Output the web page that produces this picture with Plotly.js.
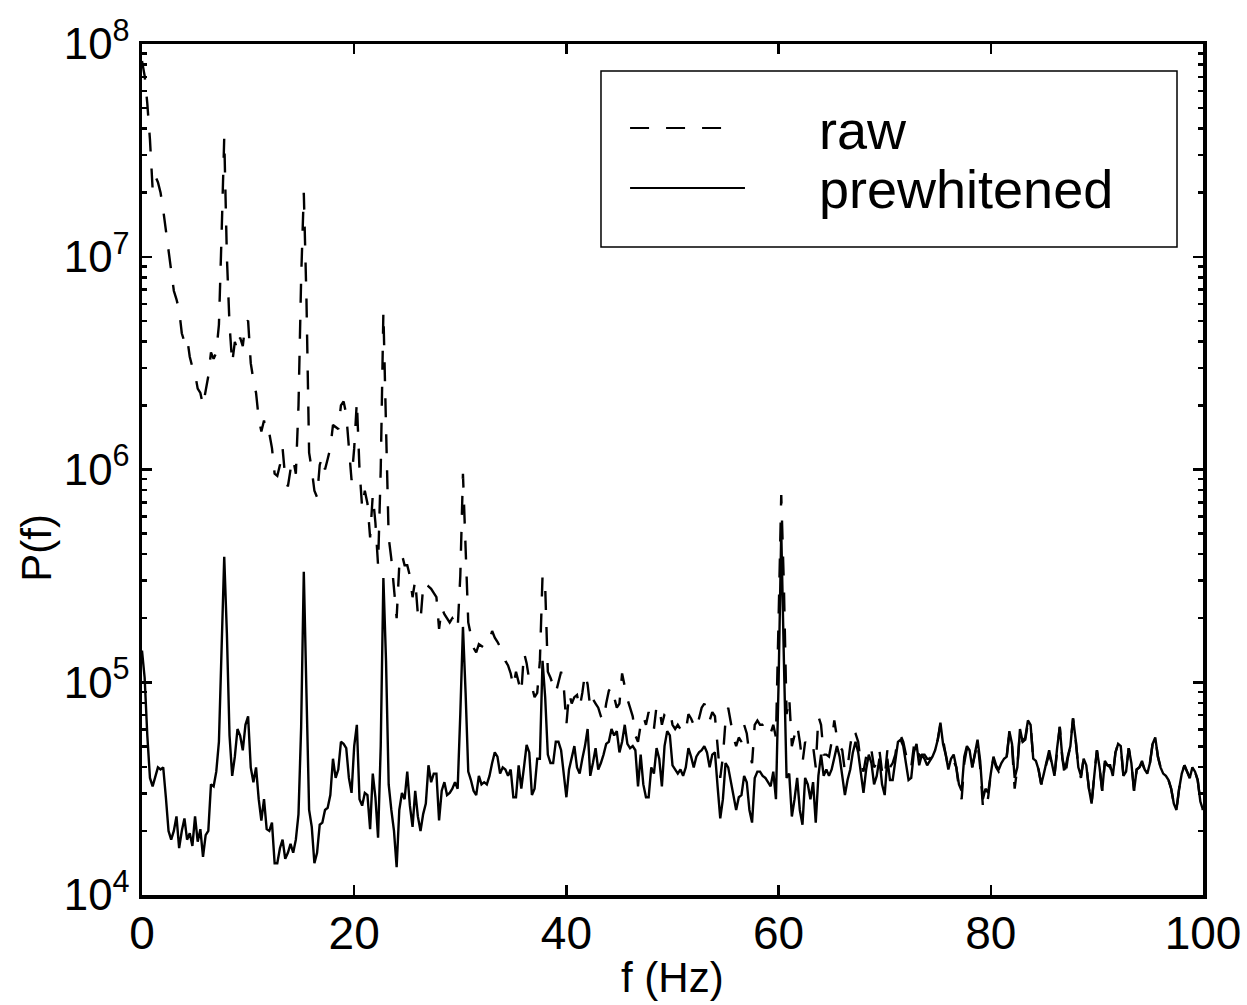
<!DOCTYPE html>
<html><head><meta charset="utf-8">
<script src="https://cdn.plot.ly/plotly-3.0.1.min.js"></script>
<style>html,body{margin:0;padding:0;background:#fff}#chart{width:1247px;height:1005px}</style>
</head><body><div id="chart"></div>
<script>
// ---- data (frequency grid: start and step in Hz) ----
const freqStart = 0;
const freqStep = 0.25;
const seriesNames = ['raw', 'prewhitened'];
const xTickVals = [0, 20, 40, 60, 80, 100];
const xTitle = 'f (Hz)';
const yTitle = 'P(f)';

const rawPower = [
8.32e7,7.08e7,5.25e7,3.55e7,2.09e7,2.4e7,2.24e7,2.0e7,1.66e7,1.32e7,1.05e7,8.32e6,6.92e6,6.31e6,5.62e6,4.37e6,3.98e6,4.17e6,3.39e6,3.02e6,
2.82e6,2.4e6,2.29e6,2.0e6,2.4e6,2.75e6,3.55e6,3.31e6,3.55e6,4.79e6,1.26e7,3.63e7,1.0e7,4.79e6,3.16e6,3.98e6,3.63e6,4.17e6,3.8e6,4.9e6,
5.01e6,3.16e6,2.63e6,2.29e6,1.74e6,1.51e6,1.7e6,1.45e6,1.48e6,1.26e6,9.55e5,9.33e5,1.05e6,1.26e6,9.12e5,8.32e5,1.0e6,1.12e6,9.55e5,2.0e6,
7.94e6,2.0e7,6.31e6,1.2e6,1.0e6,7.94e5,7.41e5,1.05e6,1.15e6,1.0e6,1.12e6,1.26e6,1.62e6,1.58e6,1.55e6,2.0e6,2.09e6,1.82e6,1.26e6,8.91e5,
1.26e6,2.09e6,1.0e6,6.61e5,7.94e5,6.92e5,4.79e5,7.59e5,5.62e5,3.55e5,1.0e6,5.5e6,1.58e6,4.79e5,3.8e5,2.82e5,2.0e5,3.55e5,3.98e5,3.55e5,
3.55e5,3.16e5,2.51e5,3.02e5,2.09e5,1.95e5,2.82e5,2.69e5,2.82e5,2.75e5,2.63e5,2.51e5,1.78e5,2.24e5,2.09e5,2.0e5,1.91e5,2.0e5,1.91e5,1.78e5,
3.16e5,9.55e5,3.98e5,1.91e5,1.66e5,1.45e5,1.38e5,1.51e5,1.48e5,1.45e5,1.51e5,1.58e5,1.74e5,1.62e5,1.55e5,1.45e5,1.38e5,1.26e5,1.2e5,1.1e5,
9.55e4,1.12e5,1.0e5,8.91e4,1.38e5,1.23e5,1.02e5,9.55e4,8.51e4,8.91e4,1.26e5,3.16e5,2.82e5,1.12e5,1.05e5,9.55e4,8.91e4,1.0e5,1.12e5,9.55e4,
6.31e4,8.91e4,7.94e4,8.51e4,8.71e4,7.59e4,8.91e4,1.1e5,9.77e4,7.59e4,8.32e4,7.94e4,7.59e4,6.92e4,6.61e4,7.94e4,9.12e4,9.55e4,8.51e4,7.59e4,
7.94e4,1.1e5,9.55e4,8.32e4,7.59e4,6.92e4,5.62e4,5.25e4,6.31e4,6.92e4,6.31e4,7.24e4,6.31e4,6.03e4,7.76e4,7.59e4,6.31e4,7.08e4,7.24e4,7.41e4,
6.31e4,6.03e4,6.31e4,6.03e4,5.75e4,5.89e4,7.08e4,6.76e4,6.31e4,6.03e4,6.76e4,7.59e4,7.94e4,7.24e4,6.61e4,7.24e4,6.92e4,5.01e4,3.55e4,4.47e4,
6.61e4,7.59e4,6.31e4,5.5e4,5.01e4,5.5e4,5.25e4,6.31e4,5.75e4,4.57e4,4.17e4,6.31e4,6.61e4,6.31e4,6.31e4,6.46e4,6.31e4,5.75e4,6.31e4,5.5e4,
2.0e5,7.59e5,2.82e5,7.08e4,8.51e4,5.01e4,5.62e4,6.31e4,5.25e4,4.17e4,5.25e4,5.01e4,4.79e4,5.01e4,3.98e4,6.92e4,6.31e4,4.57e4,4.57e4,4.47e4,
5.25e4,6.61e4,5.5e4,5.01e4,4.79e4,3.8e4,3.98e4,5.01e4,6.03e4,5.75e4,5.25e4,4.17e4,3.8e4,4.47e4,5.01e4,4.79e4,3.98e4,4.17e4,4.79e4,3.8e4,
3.55e4,4.79e4,3.98e4,4.17e4,4.57e4,5.5e4,5.62e4,5.25e4,4.57e4,3.98e4,3.98e4,5.01e4,5.25e4,4.47e4,4.57e4,4.57e4,4.37e4,4.37e4,4.57e4,5.01e4,
5.37e4,6.31e4,5.25e4,4.57e4,3.98e4,4.27e4,4.27e4,3.98e4,3.16e4,2.82e4,4.17e4,4.9e4,4.79e4,3.98e4,4.57e4,5.25e4,3.98e4,2.63e4,2.51e4,2.88e4,
3.72e4,4.37e4,3.98e4,3.8e4,3.98e4,4.17e4,4.47e4,5.75e4,5.01e4,3.16e4,3.98e4,5.89e4,5.25e4,5.37e4,6.46e4,6.31e4,4.37e4,4.17e4,3.89e4,3.31e4,
3.63e4,4.17e4,4.57e4,4.17e4,3.63e4,4.79e4,6.17e4,4.37e4,3.55e4,4.37e4,5.01e4,6.76e4,5.37e4,3.98e4,3.55e4,4.37e4,4.07e4,3.16e4,2.69e4,3.63e4,
4.79e4,3.98e4,3.09e4,4.17e4,4.07e4,3.98e4,3.63e4,4.68e4,5.13e4,5.01e4,3.63e4,3.8e4,4.9e4,4.17e4,3.09e4,3.89e4,3.98e4,4.17e4,3.89e4,3.72e4,
4.17e4,5.13e4,5.5e4,4.47e4,3.98e4,3.72e4,3.63e4,3.47e4,3.16e4,2.69e4,2.51e4,3.16e4,3.72e4,4.07e4,3.8e4,3.55e4,3.98e4,3.8e4,3.47e4,2.75e4,2.51e4
];

const prewhitenedPower = [
1.41e5,1.05e5,5.62e4,3.55e4,3.24e4,3.63e4,3.98e4,3.89e4,3.98e4,2.88e4,2.0e4,1.82e4,2.0e4,2.34e4,1.66e4,2.0e4,2.29e4,1.82e4,1.95e4,1.7e4,
2.34e4,1.78e4,2.04e4,1.51e4,1.91e4,2.0e4,3.31e4,3.24e4,3.8e4,5.25e4,1.4e5,3.89e5,1.7e5,5.62e4,3.63e4,4.47e4,6.03e4,5.62e4,4.79e4,6.31e4,
6.92e4,3.98e4,3.39e4,3.98e4,2.82e4,2.24e4,2.82e4,2.04e4,2.0e4,2.19e4,1.41e4,1.41e4,1.66e4,1.82e4,1.48e4,1.58e4,1.74e4,1.58e4,1.82e4,2.4e4,
6.17e4,3.31e5,8.91e4,2.51e4,2.09e4,1.41e4,1.58e4,2.14e4,2.19e4,2.51e4,2.57e4,2.95e4,4.37e4,3.55e4,3.89e4,5.25e4,5.13e4,4.9e4,3.55e4,3.02e4,
5.01e4,6.31e4,2.82e4,2.63e4,3.02e4,2.95e4,2.04e4,3.72e4,2.88e4,1.86e4,5.01e4,3.09e5,1.26e5,3.31e4,2.51e4,2.0e4,1.35e4,2.51e4,3.02e4,2.82e4,
3.8e4,2.63e4,2.09e4,3.09e4,2.34e4,2.0e4,2.4e4,2.69e4,4.07e4,3.39e4,3.72e4,3.72e4,2.24e4,3.09e4,3.39e4,2.95e4,3.02e4,3.16e4,3.39e4,3.16e4,
7.08e4,1.82e5,8.91e4,3.8e4,3.47e4,3.09e4,2.95e4,3.63e4,3.31e4,3.39e4,3.31e4,3.63e4,4.17e4,4.68e4,4.47e4,3.72e4,3.98e4,3.89e4,3.63e4,3.89e4,
2.88e4,2.88e4,4.07e4,3.16e4,3.98e4,5.07e4,4.68e4,2.95e4,3.16e4,4.37e4,4.37e4,1.26e5,8.5e4,4.57e4,4.17e4,4.17e4,5.25e4,5.25e4,4.79e4,3.72e4,
2.88e4,3.89e4,4.47e4,5.01e4,3.98e4,3.72e4,4.37e4,5.01e4,6.03e4,3.63e4,4.17e4,4.9e4,3.89e4,4.17e4,4.57e4,5.13e4,5.25e4,6.03e4,5.62e4,5.89e4,
4.68e4,5.25e4,6.31e4,5.13e4,4.9e4,5.01e4,4.79e4,3.24e4,4.57e4,3.31e4,2.88e4,2.88e4,3.98e4,3.72e4,4.9e4,4.37e4,3.24e4,5.01e4,5.89e4,5.62e4,
4.07e4,3.89e4,3.72e4,3.89e4,3.63e4,3.98e4,4.9e4,4.47e4,3.98e4,4.47e4,4.68e4,4.79e4,5.01e4,4.68e4,3.98e4,4.57e4,4.68e4,3.24e4,2.29e4,2.82e4,
4.17e4,3.98e4,3.39e4,3.02e4,2.51e4,2.88e4,2.95e4,3.63e4,3.39e4,2.51e4,2.19e4,3.55e4,3.8e4,3.8e4,3.63e4,3.55e4,3.39e4,3.24e4,3.8e4,2.82e4,
1.0e5,5.13e5,1.26e5,3.55e4,3.72e4,2.34e4,2.82e4,3.55e4,2.51e4,2.14e4,3.55e4,3.31e4,2.82e4,3.39e4,2.19e4,3.63e4,4.57e4,3.63e4,3.89e4,3.63e4,
3.89e4,4.47e4,5.01e4,4.47e4,3.63e4,2.95e4,3.47e4,3.89e4,4.68e4,5.25e4,4.68e4,3.72e4,3.02e4,3.89e4,4.57e4,4.17e4,3.31e4,3.63e4,4.37e4,3.31e4,
2.95e4,4.37e4,3.47e4,3.47e4,4.17e4,5.25e4,5.37e4,5.01e4,4.17e4,3.47e4,3.55e4,4.68e4,5.13e4,4.07e4,4.57e4,4.37e4,4.07e4,4.27e4,4.47e4,4.79e4,
5.37e4,6.46e4,5.13e4,4.57e4,3.89e4,4.37e4,4.57e4,3.98e4,3.31e4,3.09e4,4.47e4,5.01e4,4.79e4,3.98e4,4.68e4,5.37e4,4.27e4,2.82e4,3.16e4,3.02e4,
3.72e4,4.47e4,4.07e4,3.89e4,4.17e4,4.37e4,4.47e4,5.89e4,5.13e4,3.55e4,3.98e4,6.03e4,5.25e4,5.5e4,6.61e4,6.31e4,4.37e4,4.27e4,3.89e4,3.31e4,
3.72e4,4.17e4,4.79e4,4.17e4,3.63e4,4.9e4,6.17e4,4.37e4,3.89e4,4.47e4,5.01e4,6.76e4,5.37e4,3.98e4,3.63e4,4.37e4,4.07e4,3.16e4,2.69e4,3.63e4,
4.79e4,3.98e4,3.09e4,4.27e4,4.07e4,4.07e4,3.63e4,4.68e4,5.13e4,5.01e4,3.63e4,3.8e4,4.9e4,4.17e4,3.09e4,3.89e4,3.98e4,4.27e4,3.89e4,3.72e4,
4.17e4,5.13e4,5.5e4,4.47e4,3.98e4,3.72e4,3.63e4,3.47e4,3.16e4,2.69e4,2.51e4,3.16e4,3.72e4,4.07e4,3.8e4,3.55e4,3.98e4,3.8e4,3.47e4,2.75e4,2.51e4
];

// ---- styling ----
const FONT = '"Liberation Sans", Arial, Helvetica, sans-serif';
const DASH = '19px,17px';
const LW = 2.4;

const traces = [
  { name: seriesNames[0], y: rawPower, x0: freqStart, dx: freqStep, type: 'scatter', mode: 'lines',
    line: { color: '#000', width: LW, dash: DASH }, showlegend: false, hoverinfo: 'skip' },
  { name: seriesNames[1], y: prewhitenedPower, x0: freqStart, dx: freqStep, type: 'scatter', mode: 'lines',
    line: { color: '#000', width: LW }, showlegend: false, hoverinfo: 'skip' }
];

// legend box geometry in paper fractions
const lg = { x0: 0.4326, x1: 0.9755, y0: 0.7615, y1: 0.9683,
             lineX0: 0.460, lineX1: 0.5683, textX: 0.6371, row1: 0.8990, row2: 0.8296 };

const layout = {
  width: 1247, height: 1005,
  margin: { l: 142, r: 44, t: 44, b: 110, pad: 0 },
  paper_bgcolor: '#fff', plot_bgcolor: '#fff',
  showlegend: false,
  font: { family: FONT, color: '#000' },
  xaxis: {
    range: [0, 100], tickmode: 'array', tickvals: xTickVals,
    ticks: 'inside', ticklen: 10, tickwidth: 2.5, tickcolor: '#000',
    showline: true, linewidth: 3.5, linecolor: '#000', mirror: 'ticks',
    showgrid: false, zeroline: false,
    tickfont: { family: FONT, size: 46, color: '#000' },
    ticklabelstandoff: -5
  },
  yaxis: {
    type: 'log', range: [4, 8], dtick: 1, tick0: 0, exponentformat: 'power',
    ticks: 'inside', ticklen: 10, tickwidth: 2.5, tickcolor: '#000',
    minor: { ticks: 'inside', ticklen: 5, tickwidth: 2.5, tickcolor: '#000', dtick: 'D1', showgrid: false },
    showline: true, linewidth: 3.5, linecolor: '#000', mirror: 'ticks',
    showgrid: false, zeroline: false,
    tickfont: { family: FONT, size: 35, color: '#000' },
    ticklabelstandoff: 2
  },
  shapes: [
    { type: 'rect', xref: 'paper', yref: 'paper', x0: lg.x0, x1: lg.x1, y0: lg.y0, y1: lg.y1,
      line: { color: '#000', width: 1.5 }, fillcolor: 'rgba(0,0,0,0)' },
    { type: 'line', xref: 'paper', yref: 'paper', x0: lg.lineX0, x1: lg.lineX1 - 0.02, y0: 0.9013, y1: 0.9013,
      line: { color: '#000', width: 2, dash: DASH } },
    { type: 'line', xref: 'paper', yref: 'paper', x0: lg.lineX0, x1: lg.lineX1, y0: 0.8308, y1: 0.8308,
      line: { color: '#000', width: 2 } }
  ],
  annotations: [
    { text: seriesNames[0], xref: 'paper', yref: 'paper', x: lg.textX, y: lg.row1, xanchor: 'left', yanchor: 'middle',
      showarrow: false, borderpad: 0, font: { family: FONT, size: 54, color: '#000' } },
    { text: seriesNames[1], xref: 'paper', yref: 'paper', x: lg.textX, y: lg.row2, xanchor: 'left', yanchor: 'middle',
      showarrow: false, borderpad: 0, font: { family: FONT, size: 54, color: '#000' } },
    { text: xTitle, xref: 'paper', yref: 'paper', x: 0.5, y: -0.0975, xanchor: 'center', yanchor: 'middle',
      showarrow: false, borderpad: 0, font: { family: FONT, size: 42, color: '#000' } },
    { text: yTitle, xref: 'paper', yref: 'paper', x: -0.099, y: 0.408, xanchor: 'center', yanchor: 'middle',
      textangle: -90, showarrow: false, borderpad: 0, font: { family: FONT, size: 42, color: '#000' } }
  ]
};

Plotly.newPlot('chart', traces, layout, { staticPlot: true, displayModeBar: false });
</script>
</body></html>
